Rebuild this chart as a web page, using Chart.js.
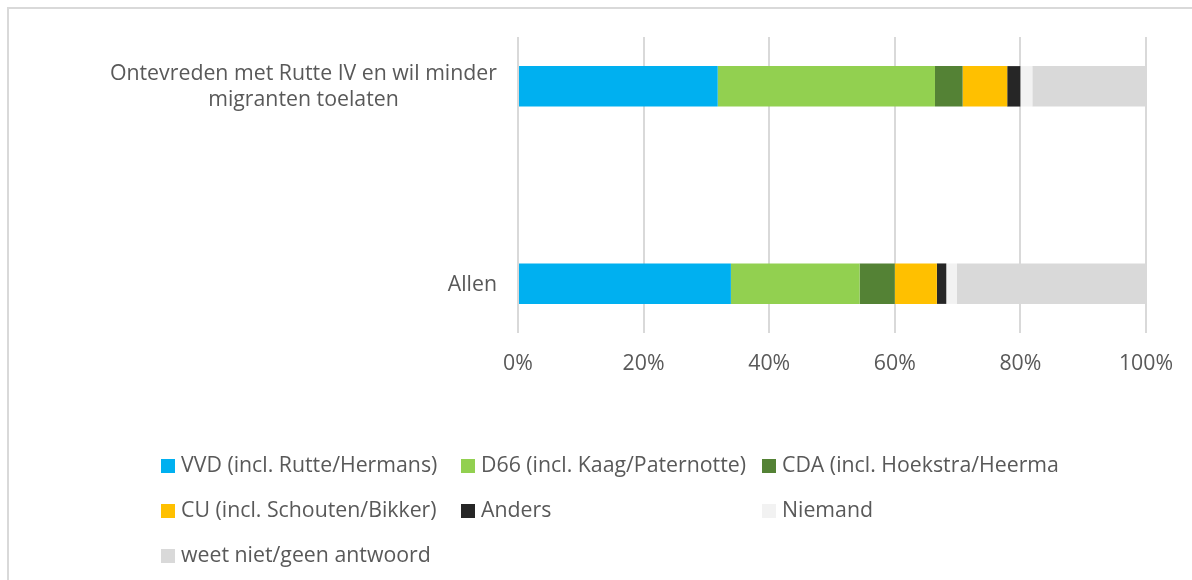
<!DOCTYPE html>
<html>
<head>
<meta charset="utf-8">
<script src="https://cdn.jsdelivr.net/npm/chart.js@4/dist/chart.umd.min.js"></script>
<style>
  html, body { margin: 0; padding: 0; background: #fff; overflow: hidden; }
  #wrap { position: relative; width: 1192px; height: 580px; }
  #frame { position: absolute; left: 7px; top: 7px; width: 1300px; height: 700px;
           border-top: 2px solid #D9D9D9; border-left: 2px solid #D9D9D9; box-sizing: border-box; }
  canvas { position: absolute; left: 0; top: 0; }
  .leg { position: absolute; font-family: "Open Sans", sans-serif; font-size: 21.3px; color: #595959;
         white-space: nowrap; line-height: 24px; }
  .leg span.box { display: inline-block; width: 14px; height: 14px; margin-right: 6px; vertical-align: -1px; }
</style>
</head>
<body>
<div id="wrap">
  <div id="frame"></div>
  <canvas id="myChart" width="1192" height="580"></canvas>
  <div id="legend"></div>
</div>
<script>
// categories, top to bottom (middle one is an empty spacer category)
const categories = [['Ontevreden met Rutte IV en wil minder', 'migranten toelaten'], '', 'Allen'];

// share per party, in %
const seriesNames = [
  'VVD (incl. Rutte/Hermans)',
  'D66 (incl. Kaag/Paternotte)',
  'CDA (incl. Hoekstra/Heerma',
  'CU (incl. Schouten/Bikker)',
  'Anders',
  'Niemand',
  'weet niet/geen antwoord'
];
const vvd     = [31.8, null, 33.9];
const d66     = [34.6, null, 20.5];
const cda     = [4.4, null, 5.6];
const cu      = [7.1, null, 6.7];
const anders  = [2.1, null, 1.5];
const niemand = [1.9, null, 1.7];
const weetNiet = [18.1, null, 30.1];

const xTicks = [0, 20, 40, 60, 80, 100];

const colors = ['#00B0F0', '#92D050', '#548235', '#FFC000', '#262626', '#F2F2F2', '#D9D9D9'];
const allSeries = [vvd, d66, cda, cu, anders, niemand, weetNiet];

const FONT = '"Open Sans", sans-serif';
const TEXT = '#595959';

// draws the category labels: block right aligned, lines centered (like Excel)
const catLabels = {
  id: 'catLabels',
  afterDraw(chart) {
    const ctx = chart.ctx;
    const yScale = chart.scales.y;
    const right = 497;
    const lineH = 26;
    ctx.save();
    ctx.font = '21.3px ' + FONT;
    ctx.fillStyle = TEXT;
    ctx.textBaseline = 'middle';
    ctx.textAlign = 'center';
    categories.forEach((lab, i) => {
      const lines = Array.isArray(lab) ? lab : [lab];
      if (!lines[0]) return;
      const w = Math.max(...lines.map(l => ctx.measureText(l).width));
      const cx = right - w / 2;
      const cy = yScale.getPixelForValue(i) + 1;
      lines.forEach((l, j) => {
        ctx.fillText(l, cx, cy + (j - (lines.length - 1) / 2) * lineH);
      });
    });
    ctx.restore();
  }
};

const ctx = document.getElementById('myChart').getContext('2d');
new Chart(ctx, {
  type: 'bar',
  data: {
    labels: categories,
    datasets: seriesNames.map((name, i) => ({
      label: name,
      data: allSeries[i],
      backgroundColor: colors[i],
      borderWidth: 0,
      barPercentage: 0.41,
      categoryPercentage: 1
    }))
  },
  options: {
    indexAxis: 'y',
    responsive: false,
    animation: false,
    layout: { padding: { top: 37, right: 46, left: 0, bottom: 0 } },
    scales: {
      x: {
        stacked: true,
        min: 0,
        max: 100,
        afterBuildTicks(scale) { scale.ticks = xTicks.map(v => ({ value: v })); },
        afterFit(scale) { scale.height = 580 - 333; },
        grid: { color: '#D9D9D9', lineWidth: 2, drawTicks: false },
        border: { display: false },
        ticks: {
          padding: 18,
          color: TEXT,
          font: { family: FONT, size: 21.3 },
          callback: v => v + '%'
        }
      },
      y: {
        stacked: true,
        afterFit(scale) { scale.width = 518; },
        grid: { display: false },
        border: { display: false },
        ticks: { display: false }
      }
    },
    plugins: {
      legend: { display: false },
      tooltip: { enabled: false }
    }
  },
  plugins: [catLabels]
});

// legend in Excel-like grid: 3 columns
const legend = document.getElementById('legend');
const colX = [161, 461, 762];
const rowY = [464, 509, 554];
seriesNames.forEach((name, i) => {
  const d = document.createElement('div');
  d.className = 'leg';
  d.style.left = colX[i % 3] + 'px';
  d.style.top = (rowY[Math.floor(i / 3)] - 12) + 'px';
  d.innerHTML = '<span class="box" style="background:' + colors[i] + '"></span>' + name;
  legend.appendChild(d);
});
</script>
</body>
</html>
